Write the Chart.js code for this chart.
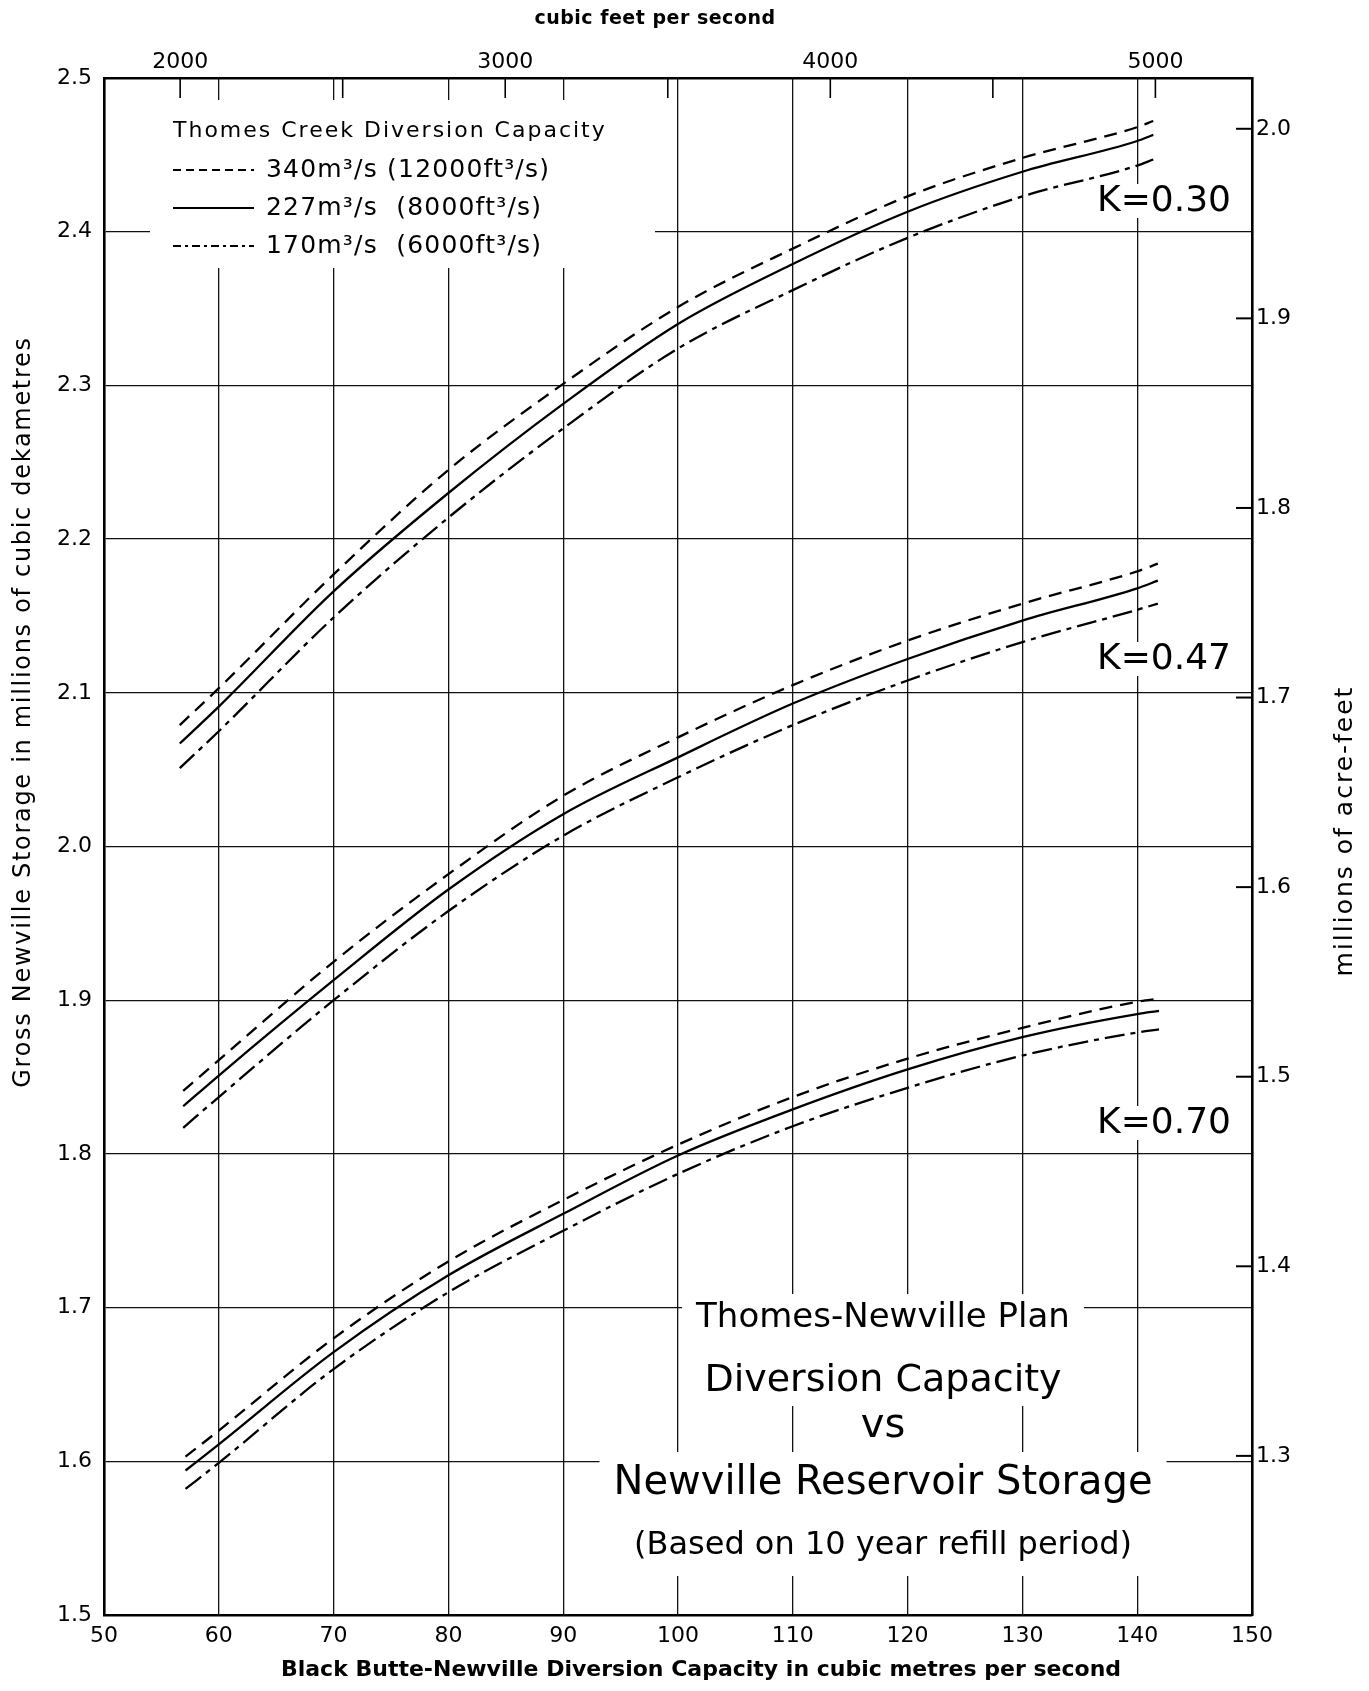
<!DOCTYPE html>
<html lang="en">
  <head>
    <meta charset="UTF-8" />
    <title>Thomes-Newville Plan - Diversion Capacity vs Newville Reservoir Storage</title>
    <style>
      html,
      body {
        margin: 0;
        padding: 0;
        background: #fff;
      }
      #chart {
        display: block;
      }
    </style>
  </head>
  <body>
    <canvas id="chart" width="1369" height="1691"></canvas>

    <script src="https://cdn.jsdelivr.net/npm/chart.js@4.4.1/dist/chart.umd.min.js"></script>
    <script>
      // unit conversions for the secondary axes
      const CFS_PER_CMS = 35.3147;
      const DAM3_PER_MAF = 1.23348;

      // tick values
      const xTicks = [50, 60, 70, 80, 90, 100, 110, 120, 130, 140, 150];
      const yTicks = [1.5, 1.6, 1.7, 1.8, 1.9, 2.0, 2.1, 2.2, 2.3, 2.4, 2.5];
      const cfsTicks = [2000, 2500, 3000, 3500, 4000, 4500, 5000];
      const mafTicks = [1.3, 1.4, 1.5, 1.6, 1.7, 1.8, 1.9, 2.0];

      // Thomes Creek diversion capacities (legend)
      const legendTitle = "Thomes Creek Diversion Capacity";
      const seriesNames = [
        "340m³/s (12000ft³/s)",
        "227m³/s  (8000ft³/s)",
        "170m³/s  (6000ft³/s)",
      ];
      const kNames = ["K=0.30", "K=0.47", "K=0.70"];

      // Black Butte-Newville capacity (m3/s) for each curve family
      const xK30 = [56.6, 60, 70, 80, 90, 100, 110, 120, 130, 140, 141.4];
      const xK47 = [56.9, 60, 70, 80, 90, 100, 110, 120, 130, 140, 141.8];
      const xK70 = [57.1, 60, 70, 80, 90, 100, 110, 120, 130, 140, 141.9];

      // gross storage, millions of dam3
      const k30Cap340 = [2.079, 2.103, 2.177, 2.245, 2.301, 2.351, 2.389, 2.423, 2.448, 2.468, 2.472];
      const k30Cap227 = [2.067, 2.091, 2.166, 2.230, 2.288, 2.340, 2.379, 2.413, 2.439, 2.459, 2.463];
      const k30Cap170 = [2.051, 2.075, 2.149, 2.214, 2.272, 2.324, 2.362, 2.396, 2.423, 2.443, 2.447];

      const k47Cap340 = [1.841, 1.861, 1.925, 1.982, 2.033, 2.071, 2.105, 2.134, 2.158, 2.179, 2.184];
      const k47Cap227 = [1.831, 1.851, 1.913, 1.972, 2.021, 2.058, 2.093, 2.122, 2.147, 2.168, 2.173];
      const k47Cap170 = [1.817, 1.837, 1.900, 1.958, 2.007, 2.045, 2.079, 2.108, 2.133, 2.154, 2.158];

      const k70Cap340 = [1.603, 1.620, 1.680, 1.730, 1.770, 1.806, 1.837, 1.862, 1.882, 1.899, 1.901];
      const k70Cap227 = [1.594, 1.611, 1.671, 1.721, 1.761, 1.799, 1.829, 1.855, 1.876, 1.891, 1.893];
      const k70Cap170 = [1.582, 1.599, 1.660, 1.710, 1.750, 1.787, 1.818, 1.843, 1.864, 1.879, 1.881];

      const FONT = '"DejaVu Sans", sans-serif';
      const capDash = [[13, 8], [], [20, 6, 5, 6]];
      const legendDash = [[8, 5], [], [8, 4, 3, 4]];

      const families = [
        { x: xK30, ys: [k30Cap340, k30Cap227, k30Cap170] },
        { x: xK47, ys: [k47Cap340, k47Cap227, k47Cap170] },
        { x: xK70, ys: [k70Cap340, k70Cap227, k70Cap170] },
      ];

      const datasets = [];
      families.forEach((fam, k) => {
        fam.ys.forEach((ys, c) => {
          datasets.push({
            label: kNames[k] + " " + seriesNames[c],
            data: fam.x.map((x, i) => ({ x: x, y: ys[i] })),
            borderColor: "#000",
            borderWidth: 2.3,
            borderDash: capDash[c],
            pointRadius: 0,
            cubicInterpolationMode: "monotone",
            xAxisID: "x",
            yAxisID: "y",
          });
        });
      });

      function fixTicks(values) {
        return (scale) => {
          scale.ticks = values.map((v) => ({ value: v }));
        };
      }

      function line(ctx, x1, y1, x2, y2) {
        ctx.beginPath();
        ctx.moveTo(x1, y1);
        ctx.lineTo(x2, y2);
        ctx.stroke();
      }

      function label(ctx, text, x, y, font, pad) {
        ctx.font = font;
        const w = ctx.measureText(text).width;
        ctx.fillStyle = "#fff";
        ctx.fillRect(x - w / 2 - pad[0], y - pad[1], w + 2 * pad[0], pad[1] + pad[2]);
        ctx.fillStyle = "#000";
        ctx.fillText(text, x, y);
      }

      // lettering inside the plot, and the inward tick marks
      const annotate = {
        id: "annotate",
        beforeDatasetsDraw(chart) {
          const { ctx, chartArea: a, scales } = chart;
          ctx.save();
          ctx.textBaseline = "middle";

          // legend block
          ctx.fillStyle = "#fff";
          ctx.fillRect(a.left + 46, a.top + 22, 505, 168);
          ctx.fillStyle = "#000";
          ctx.textAlign = "left";
          ctx.font = "22px " + FONT;
          ctx.letterSpacing = "2px";
          ctx.fillText(legendTitle, 173, 131);
          ctx.strokeStyle = "#000";
          seriesNames.forEach((name, i) => {
            const y = 170 + i * 38;
            ctx.lineWidth = 2.2;
            ctx.setLineDash(legendDash[i]);
            line(ctx, 173, y, 254, y);
            ctx.setLineDash([]);
            ctx.font = "25px " + FONT;
            ctx.letterSpacing = "1.2px";
            ctx.fillText(name, 266, y);
          });
          ctx.letterSpacing = "0px";

          // K labels
          ctx.textAlign = "center";
          const kY = [202, 660, 1124];
          kNames.forEach((t, i) => {
            label(ctx, t, 1164, kY[i], "36px " + FONT, [6, 18, 16]);
          });

          // title block
          const titleLines = [
            ["Thomes-Newville Plan", 1318, "34px " + FONT, [14, 24, 27]],
            ["Diversion Capacity", 1381, "38px " + FONT, [14, 36, 25]],
            ["vs", 1427, "40px " + FONT, [14, 21, 25]],
            ["Newville Reservoir Storage", 1484, "40px " + FONT, [14, 32, 30]],
            ["(Based on 10 year refill period)", 1546, "32px " + FONT, [14, 32, 30]],
          ];
          titleLines.forEach(([t, y, f, p]) => label(ctx, t, 883, y, f, p));

          // inward tick marks on top and right axes
          ctx.strokeStyle = "#000";
          ctx.lineWidth = 1.6;
          cfsTicks.forEach((v) => {
            const px = scales.x2.getPixelForValue(v);
            line(ctx, px, a.top, px, a.top + 20);
          });
          ctx.lineWidth = 2;
          mafTicks.forEach((v) => {
            const py = scales.y2.getPixelForValue(v);
            line(ctx, a.right - 16, py, a.right, py);
          });
          ctx.restore();
        },
        afterDraw(chart) {
          const { ctx } = chart;
          ctx.save();
          ctx.fillStyle = "#000";
          ctx.textAlign = "center";
          ctx.textBaseline = "middle";

          ctx.font = "bold 19px " + FONT;
          ctx.letterSpacing = "0.5px";
          ctx.fillText("cubic feet per second", 655, 19);

          ctx.font = "bold 22px " + FONT;
          ctx.letterSpacing = "0px";
          ctx.fillText("Black Butte-Newville Diversion Capacity in cubic metres per second", 701, 1670);

          ctx.font = "24px " + FONT;
          ctx.letterSpacing = "1.7px";
          ctx.translate(24, 712);
          ctx.rotate(-Math.PI / 2);
          ctx.fillText("Gross Newville Storage in millions of cubic dekametres", 0, 0);
          ctx.setTransform(1, 0, 0, 1, 0, 0);

          ctx.font = "25px " + FONT;
          ctx.letterSpacing = "2px";
          ctx.translate(1345, 831);
          ctx.rotate(-Math.PI / 2);
          ctx.fillText("millions of acre-feet", 0, 0);
          ctx.restore();
        },
      };

      const tickFont = { family: FONT, size: 22 };

      new Chart(document.getElementById("chart"), {
        type: "line",
        data: { datasets: datasets },
        options: {
          responsive: false,
          animation: false,
          devicePixelRatio: 1,
          layout: { padding: 0 },
          plugins: { legend: { display: false }, tooltip: { enabled: false } },
          scales: {
            x: {
              type: "linear",
              position: "bottom",
              min: 50,
              max: 150,
              afterBuildTicks: fixTicks(xTicks),
              afterFit: (s) => {
                s.height = 76;
              },
              grid: { color: "#111", lineWidth: 1.3, drawTicks: false },
              border: { color: "#000", width: 2.6 },
              ticks: { color: "#000", font: tickFont, padding: 8, maxRotation: 0, autoSkip: false },
            },
            x2: {
              type: "linear",
              position: "top",
              min: 50 * CFS_PER_CMS,
              max: 150 * CFS_PER_CMS,
              afterBuildTicks: fixTicks(cfsTicks),
              afterFit: (s) => {
                s.height = 78;
              },
              grid: { drawOnChartArea: false, drawTicks: false },
              border: { color: "#000", width: 2.6 },
              ticks: {
                color: "#000",
                font: tickFont,
                padding: 3,
                maxRotation: 0,
                autoSkip: false,
                callback: (v) => (v % 1000 === 0 ? String(v) : ""),
              },
            },
            y: {
              type: "linear",
              position: "left",
              min: 1.5,
              max: 2.5,
              afterBuildTicks: fixTicks(yTicks),
              afterFit: (s) => {
                s.width = 104;
              },
              grid: { color: "#111", lineWidth: 1.3, drawTicks: false },
              border: { color: "#000", width: 2.6 },
              ticks: {
                color: "#000",
                font: tickFont,
                padding: 12,
                autoSkip: false,
                callback: (v) => v.toFixed(1),
              },
            },
            y2: {
              type: "linear",
              position: "right",
              min: 1.5 / DAM3_PER_MAF,
              max: 2.5 / DAM3_PER_MAF,
              afterBuildTicks: fixTicks(mafTicks),
              afterFit: (s) => {
                s.width = 117;
              },
              grid: { drawOnChartArea: false, drawTicks: false },
              border: { color: "#000", width: 2.6 },
              ticks: {
                color: "#000",
                font: tickFont,
                padding: 4,
                autoSkip: false,
                callback: (v) => v.toFixed(1),
              },
            },
          },
        },
        plugins: [annotate],
      });
    </script>
  </body>
</html>
